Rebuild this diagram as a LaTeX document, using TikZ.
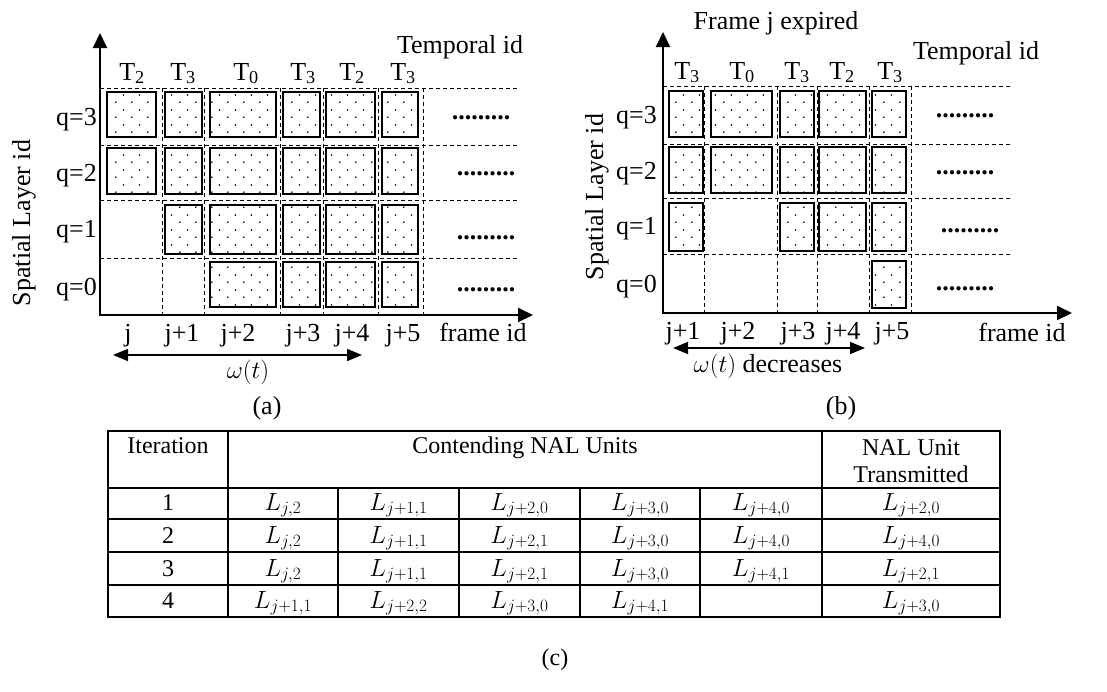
\documentclass[tikz,border=0pt]{standalone}
\usepackage{fontspec}
\setmainfont{Liberation Serif}
\usetikzlibrary{arrows.meta,patterns.meta}
\tikzdeclarepattern{name=sdots, type=uncolored,
  bounding box={(0pt,0pt) and (16pt,15pt)}, tile size={(16pt,15pt)},
  code={\fill (4pt,4pt) circle (0.95pt); \fill (12pt,11.5pt) circle (0.95pt);}}
\tikzset{
  nal/.style={draw=black, line width=1.8pt, pattern=sdots, pattern color=black},
  gridln/.style={dash pattern=on 4pt off 3pt, line width=0.9pt},
  axis/.style={line width=2pt, -{Triangle[length=15pt,width=14pt]}},
  warrow/.style={line width=1.6pt, {Triangle[length=15pt,width=12pt]}-{Triangle[length=15pt,width=12pt]}},
  lbl/.style={font=\fontsize{26}{30}\selectfont, inner sep=0pt},
  tbl/.style={font=\fontsize{24}{28}\selectfont, inner sep=0pt},
  tline/.style={line width=1.8pt},
}
\newcommand\nalbox[4]{\draw[nal] (#1,#2) rectangle (#3,#4);}
\begin{document}
\begin{tikzpicture}[x=1pt,y=-1pt]
\useasboundingbox (0,0) rectangle (1107,691);
% ================= panel (a) =================
\foreach \yy in {88,145,200,258} \draw[gridln] (100,\yy) -- (517,\yy);
\foreach \xx in {162,204,280,323,378,423} \draw[gridln] (\xx,88) -- (\xx,315);
\foreach \xa/\xb in {107/156,165/202,210/276,283/320,326/375,382/418}{
  \nalbox{\xa}{92}{\xb}{137}
  \nalbox{\xa}{148}{\xb}{194}
}
\foreach \xa/\xb in {165/202,210/276,283/320,326/375,382/418}{
  \nalbox{\xa}{205}{\xb}{254}
}
\foreach \xa/\xb in {210/276,283/320,326/375,382/418}{
  \nalbox{\xa}{262}{\xb}{307}
}
\coordinate (aO) at (100,315);
\coordinate (aY) at (100,33);
\coordinate (aX) at (533,315);
\draw[axis] (aO) -- (aY);
\draw[axis] ([xshift=-1pt]aO) -- (aX);
\node[lbl, anchor=base] (atid) at (460,53) {Temporal id};
\foreach \xx/\tt [count=\i] in {132/2,183/3,246/0,303/3,352/2,403/3}
  \node[lbl, anchor=base] (aT\i) at (\xx,80) {T\textsubscript{\tt}};
\foreach \yy/\qq in {125/3,181/2,237/1,295/0}
  \node[lbl, anchor=base east] (aq\qq) at (97,\yy) {q=\qq};
\foreach \xx/\ff [count=\i] in {128/j,182/j+1,238/j+2,303/j+3,352/j+4,403/j+5}
  \node[lbl, anchor=base] (af\i) at (\xx,341) {\ff};
\node[lbl, anchor=base] (afid) at (483,341) {frame id};
\foreach \xx/\yy [count=\i] in {481/119,486/175,486/239,486/291}
  \node[lbl, anchor=base] (adots\i) at (\xx,\yy) {\textbf{.........}};
\node[lbl, rotate=90] (aspl) at (24,223) {Spatial Layer id};
\coordinate (aw1) at (113,355);
\coordinate (aw2) at (362,355);
\draw[warrow] (aw1) -- (aw2);
\node[lbl] (aom) at (248,372) {$\omega(t)$};
\node[lbl] (acap) at (267,408) {(a)};
% ================= panel (b) =================
\foreach \yy in {86,144,198,254} \draw[gridln] (663,\yy) -- (1012,\yy);
\foreach \xx in {704,777,817,869,911} \draw[gridln] (\xx,86) -- (\xx,313);
\foreach \xa/\xb in {669/703,711/772,780/814,819/866,872/906}{
  \nalbox{\xa}{91}{\xb}{137}
  \nalbox{\xa}{147}{\xb}{193}
}
\foreach \xa/\xb in {669/703,780/814,819/866,872/906}{
  \nalbox{\xa}{203}{\xb}{251}
}
\nalbox{872}{261}{906}{308}
\coordinate (bO) at (663,313);
\coordinate (bY) at (663,32);
\coordinate (bX) at (1072,313);
\draw[axis] (bO) -- (bY);
\draw[axis] ([xshift=-1pt]bO) -- (bX);
\node[lbl, anchor=base] (bexp) at (776,29) {Frame j expired};
\node[lbl, anchor=base] (btid) at (976,59) {Temporal id};
\foreach \xx/\tt [count=\i] in {687/3,742/0,797/3,842/2,890/3}
  \node[lbl, anchor=base] (bT\i) at (\xx,79) {T\textsubscript{\tt}};
\foreach \yy/\qq in {123/3,179/2,234/1,292/0}
  \node[lbl, anchor=base east] (bq\qq) at (657,\yy) {q=\qq};
\foreach \xx/\ff [count=\i] in {683/j+1,738/j+2,798/j+3,843/j+4,892/j+5}
  \node[lbl, anchor=base] (bf\i) at (\xx,339) {\ff};
\node[lbl, anchor=base] (bfid) at (1022,341) {frame id};
\foreach \xx/\yy [count=\i] in {965/117,965/174,970/232,965/290}
  \node[lbl, anchor=base] (bdots\i) at (\xx,\yy) {\textbf{.........}};
\node[lbl, rotate=90] (bspl) at (597,197) {Spatial Layer id};
\coordinate (bw1) at (673,348);
\coordinate (bw2) at (865,348);
\draw[warrow] (bw1) -- (bw2);
\node[lbl, anchor=base] (bom) at (768,372) {$\omega(t)$ decreases};
\node[lbl] (bcap) at (841,408) {(b)};
% ================= table (c) =================
\draw[tline] (108,431) rectangle (1000,617);
\foreach \yy in {488,519,552,585} \draw[tline] (108,\yy) -- (1000,\yy);
\foreach \xx in {228,822} \draw[tline] (\xx,431) -- (\xx,617);
\foreach \xx in {338,459,580,700} \draw[tline] (\xx,488) -- (\xx,617);
\node[tbl, anchor=base] (hit) at (168,453) {Iteration};
\node[tbl, anchor=base] (hcn) at (525,453) {Contending NAL Units};
\node[tbl, anchor=base] (hnu) at (911,455) {NAL Unit};
\node[tbl, anchor=base] (htr) at (911,482) {Transmitted};
\foreach \r/\yy/\a/\b/\c/\d/\e/\f in {
  1/510/{j,2}/{j+1,1}/{j+2,0}/{j+3,0}/{j+4,0}/{j+2,0},
  2/543/{j,2}/{j+1,1}/{j+2,1}/{j+3,0}/{j+4,0}/{j+4,0},
  3/576/{j,2}/{j+1,1}/{j+2,1}/{j+3,0}/{j+4,1}/{j+2,1}}{
  \node[tbl, anchor=base] (r\r c0) at (168,\yy) {\r};
  \node[tbl, anchor=base] (r\r c1) at (283,\yy) {$L_{\a}$};
  \node[tbl, anchor=base] (r\r c2) at (398.5,\yy) {$L_{\b}$};
  \node[tbl, anchor=base] (r\r c3) at (519.5,\yy) {$L_{\c}$};
  \node[tbl, anchor=base] (r\r c4) at (640,\yy) {$L_{\d}$};
  \node[tbl, anchor=base] (r\r c5) at (761,\yy) {$L_{\e}$};
  \node[tbl, anchor=base] (r\r c6) at (911,\yy) {$L_{\f}$};
}
\node[tbl, anchor=base] (r4c0) at (168,608) {4};
\node[tbl, anchor=base] (r4c1) at (283,608) {$L_{j+1,1}$};
\node[tbl, anchor=base] (r4c2) at (398.5,608) {$L_{j+2,2}$};
\node[tbl, anchor=base] (r4c3) at (519.5,608) {$L_{j+3,0}$};
\node[tbl, anchor=base] (r4c4) at (640,608) {$L_{j+4,1}$};
\node[tbl, anchor=base] (r4c6) at (911,608) {$L_{j+3,0}$};
\node[tbl] (ccap) at (555,660) {(c)};
\end{tikzpicture}
\end{document}
